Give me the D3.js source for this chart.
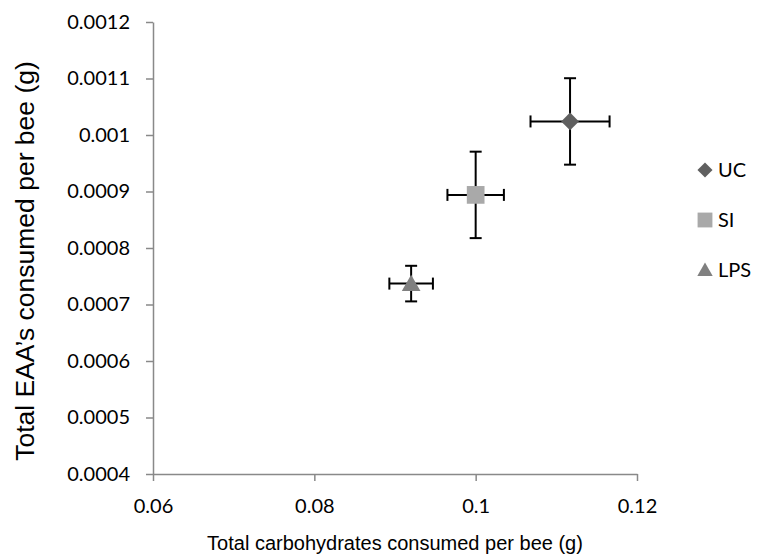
<!DOCTYPE html>
<html>
<head>
<meta charset="utf-8">
<script src="https://cdn.jsdelivr.net/npm/d3@7"></script>
<style>
  html, body { margin: 0; padding: 0; background: #fff; }
  svg { display: block; }
</style>
</head>
<body>
<svg id="chart" width="758" height="558"></svg>
<script>
// Treatment groups and their mean intakes per bee (g) with error bar half-widths
const groups = ["UC", "SI", "LPS"];
const carbMean = [0.1117, 0.1000, 0.0920];
const carbErr = [0.0049, 0.0035, 0.0027];
const eaaMean = [0.001024, 0.000894, 0.000737];
const eaaErr = [0.0000765, 0.0000765, 0.0000315];

const xTicks = [0.06, 0.08, 0.10, 0.12];
const xTickLabels = ["0.06", "0.08", "0.1", "0.12"];
const yTicks = [0.0004, 0.0005, 0.0006, 0.0007, 0.0008, 0.0009, 0.0010, 0.0011, 0.0012];
const yTickLabels = ["0.0004", "0.0005", "0.0006", "0.0007", "0.0008", "0.0009", "0.001", "0.0011", "0.0012"];

const xTitle = "Total carbohydrates consumed per bee (g)";
const yTitle = "Total EAA\u2019s consumed per bee (g)";

const colors = { UC: "#606060", SI: "#a9a9a9", LPS: "#808080" };
const shapes = { UC: d3.symbolDiamond2, SI: d3.symbolSquare2, LPS: d3.symbolTriangle2 };

const svg = d3.select("#chart");
const axisColor = "#898989";
const tickFont = "Lato, 'Open Sans', sans-serif";

const x = d3.scaleLinear().domain([0.06, 0.12]).range([153, 637]);
const y = d3.scaleLinear().domain([0.0004, 0.0012]).range([474, 22]);

// Axes
const xAxis = d3.axisBottom(x)
  .tickValues(xTicks)
  .tickFormat((d, i) => xTickLabels[i])
  .tickSize(7).tickSizeOuter(0).tickPadding(18);
const yAxis = d3.axisLeft(y)
  .tickValues(yTicks)
  .tickFormat((d, i) => yTickLabels[i])
  .tickSize(7).tickSizeOuter(0).tickPadding(16);

const gx = svg.append("g").attr("transform", `translate(0,${y(0.0004)})`).call(xAxis);
const gy = svg.append("g").attr("transform", `translate(${x(0.06)},0)`).call(yAxis);

[gx, gy].forEach(g => {
  g.select(".domain").attr("stroke", axisColor).attr("stroke-width", 1.5);
  g.selectAll(".tick line").attr("stroke", axisColor).attr("stroke-width", 1.5);
  g.selectAll(".tick text")
    .attr("fill", "#000")
    .style("font-family", tickFont)
    .style("font-size", "20px");
});

// Data rows assembled from the arrays above
const rows = groups.map((g, i) => ({
  g, cx: carbMean[i], ce: carbErr[i], ey: eaaMean[i], ee: eaaErr[i]
}));

// Error bars
const eb = svg.append("g").attr("stroke", "#000").attr("stroke-width", 2);
const cap = 6;
rows.forEach(r => {
  const px = x(r.cx), py = y(r.ey);
  const x0 = x(r.cx - r.ce), x1 = x(r.cx + r.ce);
  const y0 = y(r.ey - r.ee), y1 = y(r.ey + r.ee);
  eb.append("line").attr("x1", x0).attr("x2", x1).attr("y1", py).attr("y2", py);
  eb.append("line").attr("x1", x0).attr("x2", x0).attr("y1", py - cap).attr("y2", py + cap);
  eb.append("line").attr("x1", x1).attr("x2", x1).attr("y1", py - cap).attr("y2", py + cap);
  eb.append("line").attr("x1", px).attr("x2", px).attr("y1", y0).attr("y2", y1);
  eb.append("line").attr("x1", px - cap).attr("x2", px + cap).attr("y1", y0).attr("y2", y0);
  eb.append("line").attr("x1", px - cap).attr("x2", px + cap).attr("y1", y1).attr("y2", y1);
});

// Markers
const markerSize = { UC: 200, SI: 400, LPS: 250 };
svg.append("g").selectAll("path")
  .data(rows)
  .join("path")
  .attr("transform", d => `translate(${x(d.cx)},${y(d.ey) + (d.g === "LPS" ? 2 : 0)})`)
  .attr("d", d => d3.symbol(shapes[d.g], markerSize[d.g])())
  .attr("fill", d => colors[d.g]);

// Legend
const legendSize = { UC: 145, SI: 280, LPS: 170 };
const legend = svg.append("g");
groups.forEach((g, i) => {
  const ly = 170 + i * 50;
  legend.append("path")
    .attr("transform", `translate(705,${ly + (g === "LPS" ? 1.5 : 0)})`)
    .attr("d", d3.symbol(shapes[g], legendSize[g])())
    .attr("fill", colors[g]);
  legend.append("text")
    .attr("x", 718).attr("y", ly)
    .attr("dy", "0.36em")
    .style("font-family", tickFont)
    .style("font-size", "20px")
    .attr("fill", "#000")
    .text(g);
});

// Axis titles
svg.append("text")
  .attr("x", x(0.09)).attr("y", 550)
  .attr("text-anchor", "middle")
  .style("font-family", "'Liberation Sans', Arial, sans-serif")
  .style("font-size", "20px")
  .attr("fill", "#000")
  .text(xTitle);

svg.append("text")
  .attr("transform", `translate(34,${261}) rotate(-90)`)
  .attr("text-anchor", "middle")
  .style("font-family", "'Liberation Sans', Arial, sans-serif")
  .style("font-size", "26.5px")
  .attr("fill", "#000")
  .text(yTitle);
</script>
</body>
</html>
